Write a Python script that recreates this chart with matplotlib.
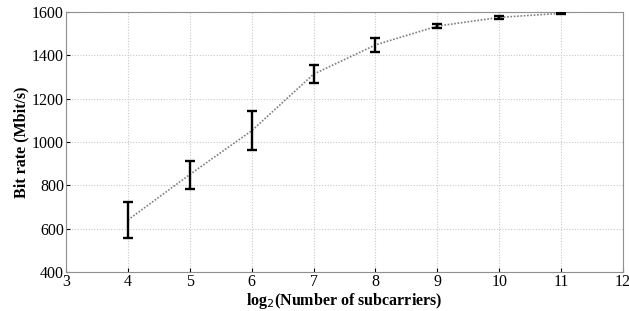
import numpy as np
import matplotlib
matplotlib.use("Agg")
import matplotlib.pyplot as plt

plt.rcParams['font.family'] = ['Liberation Serif', 'DejaVu Serif']

log2_subcarriers = [4, 5, 6, 7, 8, 9, 10, 11]
bit_rate_mean = [640, 850, 1052, 1313, 1448, 1535, 1575, 1594]
bit_rate_low = [559, 785, 962, 1271, 1415, 1526, 1567, 1591]
bit_rate_high = [722, 914, 1141, 1356, 1482, 1544, 1583, 1598]

err_low = np.array(bit_rate_mean) - np.array(bit_rate_low)
err_high = np.array(bit_rate_high) - np.array(bit_rate_mean)

fig = plt.figure(figsize=(6.29, 3.11), dpi=100)
ax = fig.add_axes([66/629, 39/311, 557/629, 260/311])

ax.plot(log2_subcarriers, bit_rate_mean, linestyle=(0, (1, 1)), color='#808080', linewidth=1.2, zorder=2)
ax.errorbar(log2_subcarriers, bit_rate_mean, yerr=[err_low, err_high], fmt='none',
            ecolor='black', elinewidth=1.7, capsize=3.3, capthick=1.7, zorder=3)

ax.set_xlim(3, 12)
ax.set_ylim(400, 1600)
ax.set_xticks(range(3, 13))
ax.set_yticks(range(400, 1601, 200))
ax.grid(True, linestyle=(0, (1, 1.5)), color='#c8c8c8', linewidth=0.8)
ax.tick_params(direction='in', length=3, labelsize=11.5, pad=1.5)
for s in ax.spines.values():
    s.set_color('#909090')

ax.set_xlabel(r'log$_2$(Number of subcarriers)', fontsize=11.5, fontweight='bold', labelpad=0.5)
ax.set_ylabel('Bit rate (Mbit/s)', fontsize=11.5, fontweight='bold', labelpad=2)

fig.savefig('out.png', dpi=100)
